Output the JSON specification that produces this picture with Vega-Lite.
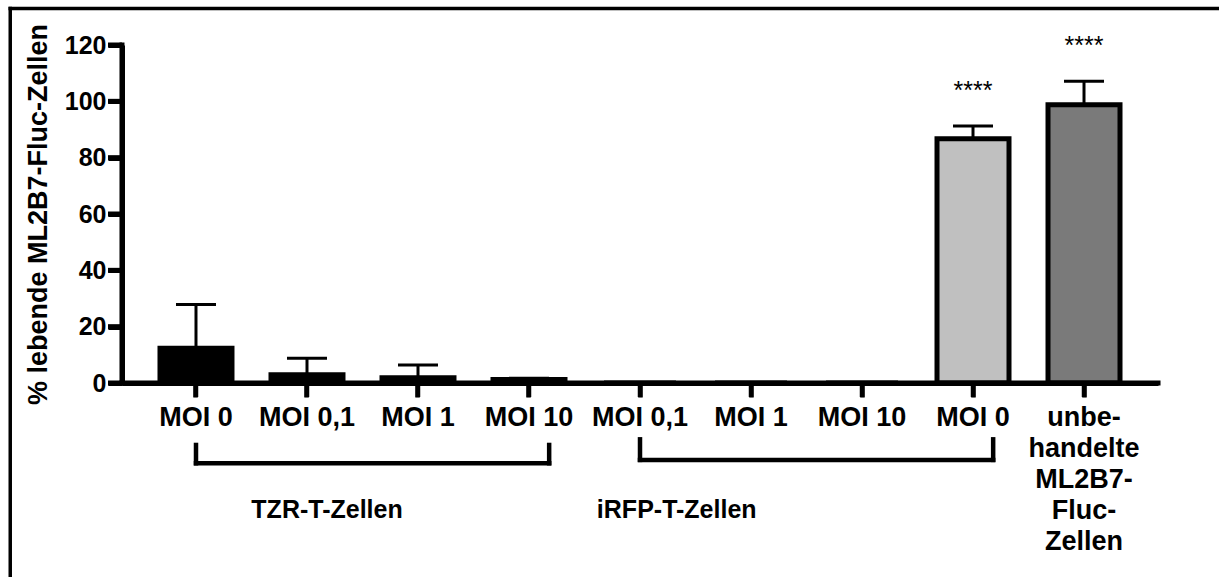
{
  "$schema": "https://vega.github.io/schema/vega-lite/v6.json",
  "width": 1036,
  "height": 338,
  "autosize": {"type": "none"},
  "padding": {"left": 122, "top": 45, "right": 61, "bottom": 194},
  "background": "white",
  "config": {
    "view": {"stroke": null},
    "font": "Liberation Sans",
    "axis": {
      "grid": false,
      "labelColor": "black",
      "labelFont": "Liberation Sans",
      "labelFontWeight": "bold",
      "titleColor": "black",
      "titleFont": "Liberation Sans",
      "titleFontWeight": "bold"
    }
  },
  "datasets": {
    "balken": [
      {"k": "1|MOI 0", "v": 12.3, "err": 27.9, "serie": "TZR", "sig": ""},
      {"k": "2|MOI 0,1", "v": 2.9, "err": 8.8, "serie": "TZR", "sig": ""},
      {"k": "3|MOI 1", "v": 1.9, "err": 6.4, "serie": "TZR", "sig": ""},
      {"k": "4|MOI 10", "v": 1.2, "err": 1.7, "serie": "TZR", "sig": ""},
      {"k": "5|MOI 0,1", "v": 0, "err": 0, "serie": "iRFP", "sig": ""},
      {"k": "6|MOI 1", "v": 0, "err": 0, "serie": "iRFP", "sig": ""},
      {"k": "7|MOI 10", "v": 0, "err": 0, "serie": "iRFP", "sig": ""},
      {"k": "8|MOI 0", "v": 86.7, "err": 91.2, "serie": "iRFP MOI 0", "sig": "****"},
      {"k": "9|unbe-|handelte|ML2B7-|Fluc-|Zellen", "v": 98.8, "err": 107.1, "serie": "unbehandelt", "sig": "****"}
    ],
    "rahmen": [
      {"von": "1|MOI 0", "bis": "9|unbe-|handelte|ML2B7-|Fluc-|Zellen", "oben": 133.0, "unten": -90}
    ],
    "achse": [
      {"von": "1|MOI 0", "bis": "9|unbe-|handelte|ML2B7-|Fluc-|Zellen", "y0": 0, "y1": 120}
    ],
    "yticks": [
      {"von": "1|MOI 0", "wert": 0},
      {"von": "1|MOI 0", "wert": 20},
      {"von": "1|MOI 0", "wert": 40},
      {"von": "1|MOI 0", "wert": 60},
      {"von": "1|MOI 0", "wert": 80},
      {"von": "1|MOI 0", "wert": 100},
      {"von": "1|MOI 0", "wert": 120}
    ],
    "xticks": [
      {"k": "1|MOI 0", "y0": 0, "y1": -5},
      {"k": "2|MOI 0,1", "y0": 0, "y1": -5},
      {"k": "3|MOI 1", "y0": 0, "y1": -5},
      {"k": "4|MOI 10", "y0": 0, "y1": -5},
      {"k": "5|MOI 0,1", "y0": 0, "y1": -5},
      {"k": "6|MOI 1", "y0": 0, "y1": -5},
      {"k": "7|MOI 10", "y0": 0, "y1": -5},
      {"k": "8|MOI 0", "y0": 0, "y1": -5},
      {"k": "9|unbe-|handelte|ML2B7-|Fluc-|Zellen", "y0": 0, "y1": -5}
    ],
    "klammern": [
      {"gruppe": "TZR-T-Zellen", "von": "1|MOI 0", "bis": "4|MOI 10", "oben": -22.0, "unten": -28.5, "text_y": -48},
      {"gruppe": "iRFP-T-Zellen", "von": "5|MOI 0,1", "bis": "8|MOI 0", "oben": -20.0, "unten": -27.3, "text_y": -48}
    ]
  },
  "layer": [
    {
      "data": {"name": "balken"},
      "mark": {"type": "bar", "stroke": "black", "strokeWidth": 5},
      "encoding": {
        "x": {
          "field": "k",
          "type": "nominal",
          "sort": null,
          "title": null,
          "scale": {
            "domain": ["1|MOI 0", "2|MOI 0,1", "3|MOI 1", "4|MOI 10", "5|MOI 0,1", "6|MOI 1", "7|MOI 10", "8|MOI 0", "9|unbe-|handelte|ML2B7-|Fluc-|Zellen"],
            "paddingInner": 0.3514,
            "paddingOuter": 0.3423
          },
          "axis": {
            "domain": true,
            "domainColor": "black",
            "domainWidth": 5,
            "ticks": true,
            "tickColor": "black",
            "tickWidth": 4.5,
            "tickSize": 14,
            "labelAngle": 0,
            "labelFontSize": 27,
            "labelPadding": 7,
            "labelLineHeight": 31,
            "labelOverlap": false,
            "labelBound": false,
            "labelLimit": 0,
            "labelExpr": "slice(split(datum.value, '|'), 1)"
          }
        },
        "y": {
          "field": "v",
          "type": "quantitative",
          "title": "% lebende ML2B7-Fluc-Zellen",
          "scale": {"domain": [0, 120], "nice": false},
          "axis": {
            "values": [0, 20, 40, 60, 80, 100, 120],
            "domain": true,
            "domainColor": "black",
            "domainWidth": 5,
            "ticks": true,
            "tickColor": "black",
            "tickWidth": 5,
            "tickSize": 14,
            "labelFontSize": 25,
            "labelPadding": 2,
            "titleFontSize": 27,
            "titlePadding": 12
          }
        },
        "color": {
          "field": "serie",
          "type": "nominal",
          "scale": {"domain": ["TZR", "iRFP", "iRFP MOI 0", "unbehandelt"], "range": ["#000000", "#000000", "#c0c0c0", "#7a7a7a"]},
          "legend": null
        }
      }
    },
    {
      "data": {"name": "achse"},
      "mark": {"type": "rule", "color": "black", "strokeWidth": 5, "strokeCap": "square"},
      "encoding": {
        "x": {"field": "von", "type": "nominal", "bandPosition": -0.528, "title": null},
        "y": {"field": "y0", "type": "quantitative", "title": "% lebende ML2B7-Fluc-Zellen"},
        "y2": {"field": "y1"}
      }
    },
    {
      "data": {"name": "achse"},
      "mark": {"type": "rule", "color": "black", "strokeWidth": 5, "strokeCap": "square"},
      "encoding": {
        "x": {"field": "von", "type": "nominal", "bandPosition": -0.528, "title": null},
        "x2": {"field": "bis", "bandPosition": 1.528},
        "y": {"field": "y0", "type": "quantitative", "title": "% lebende ML2B7-Fluc-Zellen"}
      }
    },
    {
      "data": {"name": "yticks"},
      "mark": {"type": "rule", "color": "black", "strokeWidth": 5},
      "encoding": {
        "x": {"field": "von", "type": "nominal", "bandPosition": -0.722, "title": null},
        "x2": {"field": "von", "bandPosition": -0.528},
        "y": {"field": "wert", "type": "quantitative", "title": "% lebende ML2B7-Fluc-Zellen"}
      }
    },
    {
      "data": {"name": "xticks"},
      "mark": {"type": "rule", "color": "black", "strokeWidth": 4.5},
      "encoding": {
        "x": {"field": "k", "type": "nominal", "title": null},
        "y": {"field": "y0", "type": "quantitative", "title": "% lebende ML2B7-Fluc-Zellen"},
        "y2": {"field": "y1"}
      }
    },
    {
      "data": {"name": "rahmen"},
      "mark": {"type": "rule", "color": "black", "strokeWidth": 3.5, "strokeCap": "square"},
      "encoding": {
        "x": {"field": "von", "type": "nominal", "bandPosition": -2.08, "title": null},
        "x2": {"field": "bis", "bandPosition": 3.5},
        "y": {"field": "oben", "type": "quantitative", "title": "% lebende ML2B7-Fluc-Zellen"}
      }
    },
    {
      "data": {"name": "rahmen"},
      "mark": {"type": "rule", "color": "black", "strokeWidth": 3.5, "strokeCap": "square"},
      "encoding": {
        "x": {"field": "von", "type": "nominal", "bandPosition": -2.08, "title": null},
        "y": {"field": "oben", "type": "quantitative", "title": "% lebende ML2B7-Fluc-Zellen"},
        "y2": {"field": "unten"}
      }
    },
    {
      "data": {"name": "balken"},
      "transform": [{"filter": "datum.err > datum.v"}],
      "mark": {"type": "rule", "color": "black", "strokeWidth": 3},
      "encoding": {
        "x": {"field": "k", "type": "nominal", "title": null},
        "y": {"field": "v", "type": "quantitative", "title": "% lebende ML2B7-Fluc-Zellen"},
        "y2": {"field": "err"}
      }
    },
    {
      "data": {"name": "balken"},
      "transform": [{"filter": "datum.err > datum.v"}],
      "mark": {"type": "tick", "color": "black", "size": 40, "thickness": 3, "opacity": 1},
      "encoding": {
        "x": {"field": "k", "type": "nominal", "title": null},
        "y": {"field": "err", "type": "quantitative", "title": "% lebende ML2B7-Fluc-Zellen"}
      }
    },
    {
      "data": {"name": "balken"},
      "transform": [{"filter": "datum.sig != ''"}],
      "mark": {"type": "text", "color": "black", "fontSize": 25, "font": "Liberation Sans", "baseline": "alphabetic", "align": "center", "dy": -27},
      "encoding": {
        "x": {"field": "k", "type": "nominal", "title": null},
        "y": {"field": "err", "type": "quantitative", "title": "% lebende ML2B7-Fluc-Zellen"},
        "text": {"field": "sig"}
      }
    },
    {
      "data": {"name": "klammern"},
      "mark": {"type": "rule", "color": "black", "strokeWidth": 4.5, "strokeCap": "square"},
      "encoding": {
        "x": {"field": "von", "type": "nominal", "title": null},
        "x2": {"field": "bis", "bandPosition": 0.78},
        "y": {"field": "unten", "type": "quantitative", "title": "% lebende ML2B7-Fluc-Zellen"}
      }
    },
    {
      "data": {"name": "klammern"},
      "mark": {"type": "rule", "color": "black", "strokeWidth": 4.5, "strokeCap": "square"},
      "encoding": {
        "x": {"field": "von", "type": "nominal", "title": null},
        "y": {"field": "oben", "type": "quantitative", "title": "% lebende ML2B7-Fluc-Zellen"},
        "y2": {"field": "unten"}
      }
    },
    {
      "data": {"name": "klammern"},
      "mark": {"type": "rule", "color": "black", "strokeWidth": 4.5, "strokeCap": "square"},
      "encoding": {
        "x": {"field": "bis", "type": "nominal", "bandPosition": 0.78, "title": null},
        "y": {"field": "oben", "type": "quantitative", "title": "% lebende ML2B7-Fluc-Zellen"},
        "y2": {"field": "unten"}
      }
    },
    {
      "data": {"name": "klammern"},
      "transform": [{"filter": "datum.gruppe == 'TZR-T-Zellen'"}],
      "mark": {"type": "text", "color": "black", "fontSize": 25, "fontWeight": "bold", "font": "Liberation Sans", "baseline": "alphabetic", "align": "center"},
      "encoding": {
        "x": {"field": "von", "type": "nominal", "bandPosition": 2.32, "title": null},
        "y": {"field": "text_y", "type": "quantitative", "title": "% lebende ML2B7-Fluc-Zellen"},
        "text": {"field": "gruppe"}
      }
    },
    {
      "data": {"name": "klammern"},
      "transform": [{"filter": "datum.gruppe == 'iRFP-T-Zellen'"}],
      "mark": {"type": "text", "color": "black", "fontSize": 25, "fontWeight": "bold", "font": "Liberation Sans", "baseline": "alphabetic", "align": "center"},
      "encoding": {
        "x": {"field": "von", "type": "nominal", "bandPosition": 1.01, "title": null},
        "y": {"field": "text_y", "type": "quantitative", "title": "% lebende ML2B7-Fluc-Zellen"},
        "text": {"field": "gruppe"}
      }
    }
  ]
}
